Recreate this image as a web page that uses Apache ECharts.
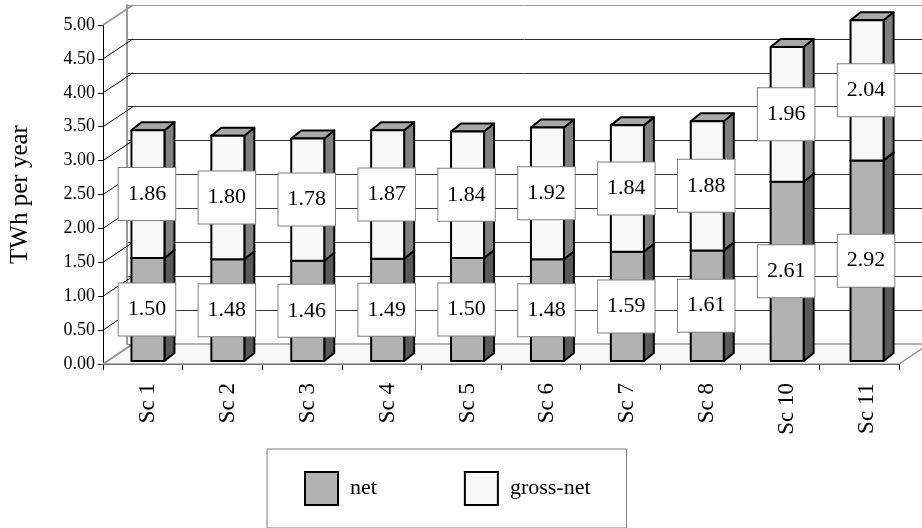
<!DOCTYPE html>
<html>
<head>
<meta charset="utf-8">
<script src="https://cdn.jsdelivr.net/npm/echarts@6/dist/echarts.min.js"></script>
<style>
  html, body { margin: 0; padding: 0; background: #fff; }
  #chart { width: 922px; height: 528px; }
</style>
</head>
<body>
<div id="chart"></div>
<script>
  // data
  var categories = ['Sc 1', 'Sc 2', 'Sc 3', 'Sc 4', 'Sc 5', 'Sc 6', 'Sc 7', 'Sc 8', 'Sc 10', 'Sc 11'];
  var netValues = [1.50, 1.48, 1.46, 1.49, 1.50, 1.48, 1.59, 1.61, 2.61, 2.92];
  var grossNetValues = [1.86, 1.80, 1.78, 1.87, 1.84, 1.92, 1.84, 1.88, 1.96, 2.04];
  var yTicks = [0, 0.5, 1, 1.5, 2, 2.5, 3, 3.5, 4, 4.5, 5];

  var SERIF = '"Liberation Serif", "Times New Roman", serif';
  // 3d look: wall depth and bar depth in pixels
  var WALL_DX = 30, WALL_DY = -20;
  var BAR_W = 33, BAR_DX = 10, BAR_DY = -8;

  var netData = categories.map(function (c, i) {
    return [i, 0, netValues[i], netValues[i]];
  });
  var grossData = categories.map(function (c, i) {
    return [i, netValues[i], netValues[i] + grossNetValues[i], grossNetValues[i]];
  });

  function makeBarRenderer(front, side, top) {
    return function (params, api) {
      var i = api.value(0);
      var pBot = api.coord([i, api.value(1)]);
      var pTop = api.coord([i, api.value(2)]);
      var x = pTop[0] - BAR_W / 2;
      var y0 = pTop[1], y1 = pBot[1];
      var line = { stroke: '#000', lineWidth: 2, lineJoin: 'round' };
      return {
        type: 'group',
        children: [
          {
            type: 'polygon',
            shape: { points: [[x + BAR_W, y0], [x + BAR_W + BAR_DX, y0 + BAR_DY], [x + BAR_W + BAR_DX, y1 + BAR_DY], [x + BAR_W, y1]] },
            style: Object.assign({ fill: side }, line)
          },
          {
            type: 'polygon',
            shape: { points: [[x, y0], [x + BAR_DX, y0 + BAR_DY], [x + BAR_W + BAR_DX, y0 + BAR_DY], [x + BAR_W, y0]] },
            style: Object.assign({ fill: top }, line)
          },
          {
            type: 'rect',
            shape: { x: x, y: y0, width: BAR_W, height: y1 - y0 },
            style: Object.assign({ fill: front }, line)
          },
          {
            type: 'text',
            x: x + BAR_W / 2 - 1,
            y: (y0 + y1) / 2,
            z2: 100,
            style: {
              text: api.value(3).toFixed(2),
              font: '22px ' + SERIF,
              fill: '#000',
              align: 'center',
              verticalAlign: 'middle',
              lineHeight: 22,
              backgroundColor: '#fff',
              borderColor: '#808080',
              borderWidth: 1,
              padding: [15, 9, 15, 9]
            }
          }
        ]
      };
    };
  }

  var myChart = echarts.init(document.getElementById('chart'));
  var option = {
    backgroundColor: '#fff',
    animation: false,
    grid: [
      // front plane (axis labels)
      { left: 97, right: 23, top: 25, bottom: 164 },
      // bars
      { left: 108, right: 15, top: 17.5, bottom: 167 },
      // back wall
      { left: 127, right: -7, top: 5, bottom: 184 }
    ],
    legend: {
      left: 267,
      top: 449,
      orient: 'horizontal',
      data: ['net', 'gross-net'],
      icon: 'rect',
      itemWidth: 33,
      itemHeight: 33,
      itemGap: 87,
      padding: [22, 36, 22, 37],
      borderColor: '#808080',
      borderWidth: 1,
      textStyle: { fontFamily: SERIF, fontSize: 22, color: '#000', padding: [0, 0, 0, 7] },
      itemStyle: { borderColor: '#000', borderWidth: 2 },
      selectedMode: false
    },
    xAxis: [
      {
        gridIndex: 0,
        type: 'category',
        data: categories,
        boundaryGap: true,
        axisLine: { lineStyle: { color: '#000', width: 1 } },
        axisTick: { show: true, length: 6, lineStyle: { color: '#000' } },
        axisLabel: { show: false }
      },
      {
        gridIndex: 1,
        type: 'category',
        data: categories,
        axisLine: { show: false },
        axisTick: { show: false },
        axisLabel: { rotate: 90, margin: 22, fontFamily: SERIF, fontSize: 23, color: '#000' }
      },
      { gridIndex: 2, type: 'value', min: 0, max: 10, show: false }
    ],
    yAxis: [
      {
        gridIndex: 0,
        type: 'value',
        min: 0,
        max: 5,
        interval: 0.5,
        name: 'TWh per year',
        nameLocation: 'middle',
        nameRotate: 90,
        nameGap: 70,
        nameTextStyle: { fontFamily: SERIF, fontSize: 25, color: '#000' },
        axisLine: { show: true, lineStyle: { color: '#000', width: 1 } },
        axisTick: { show: true, length: 5, lineStyle: { color: '#000' } },
        axisLabel: {
          margin: 8,
          fontFamily: SERIF,
          fontSize: 18,
          color: '#000',
          formatter: function (v) { return v.toFixed(2); }
        },
        splitLine: { show: false }
      },
      { gridIndex: 1, type: 'value', min: 0, max: 5, show: false },
      {
        gridIndex: 2,
        type: 'value',
        min: 0,
        max: 5,
        interval: 0.5,
        axisLine: { show: true, lineStyle: { color: '#999', width: 2 } },
        axisTick: { show: false },
        axisLabel: { show: false },
        splitLine: {
          show: true,
          lineStyle: {
            color: ['#999', '#333', '#333', '#333', '#333', '#333', '#333', '#333', '#333', '#333', '#999'],
            width: 1
          }
        }
      }
    ],
    series: [
      {
        // floor of the 3d box
        name: 'floor',
        type: 'custom',
        xAxisIndex: 0,
        yAxisIndex: 0,
        z: 1,
        silent: true,
        data: [[0, 0]],
        renderItem: function (params, api) {
          var cs = params.coordSys;
          var yb = api.coord([0, 0])[1];
          var x0 = cs.x, x1 = cs.x + cs.width;
          return {
            type: 'polygon',
            shape: { points: [[x0, yb], [x1, yb], [x1 + WALL_DX, yb + WALL_DY], [x0 + WALL_DX, yb + WALL_DY]] },
            style: { fill: '#f8f8f8', stroke: '#999', lineWidth: 1.5 }
          };
        }
      },
      {
        // side wall lines from front axis ticks to back wall
        name: 'side',
        type: 'custom',
        xAxisIndex: 0,
        yAxisIndex: 0,
        z: 1,
        silent: true,
        data: yTicks.map(function (v) { return [0, v]; }),
        renderItem: function (params, api) {
          var x0 = params.coordSys.x;
          var v = api.value(1);
          var y = api.coord([0, v])[1];
          var edge = v === 0 || v === 5;
          return {
            type: 'line',
            shape: { x1: x0, y1: y, x2: x0 + WALL_DX, y2: y + WALL_DY },
            style: { stroke: edge ? '#999' : '#000', lineWidth: edge ? 2 : 1 }
          };
        }
      },
      {
        name: 'net',
        type: 'custom',
        xAxisIndex: 1,
        yAxisIndex: 1,
        z: 3,
        itemStyle: { color: '#b2b2b2' },
        encode: { x: 0, y: [1, 2] },
        data: netData,
        renderItem: makeBarRenderer('#b2b2b2', '#595959', '#8c8c8c')
      },
      {
        name: 'gross-net',
        type: 'custom',
        xAxisIndex: 1,
        yAxisIndex: 1,
        z: 3,
        itemStyle: { color: '#f8f8f8' },
        encode: { x: 0, y: [1, 2] },
        data: grossData,
        renderItem: makeBarRenderer('#f8f8f8', '#808080', '#a8a8a8')
      }
    ]
  };
  myChart.setOption(option);
</script>
</body>
</html>
